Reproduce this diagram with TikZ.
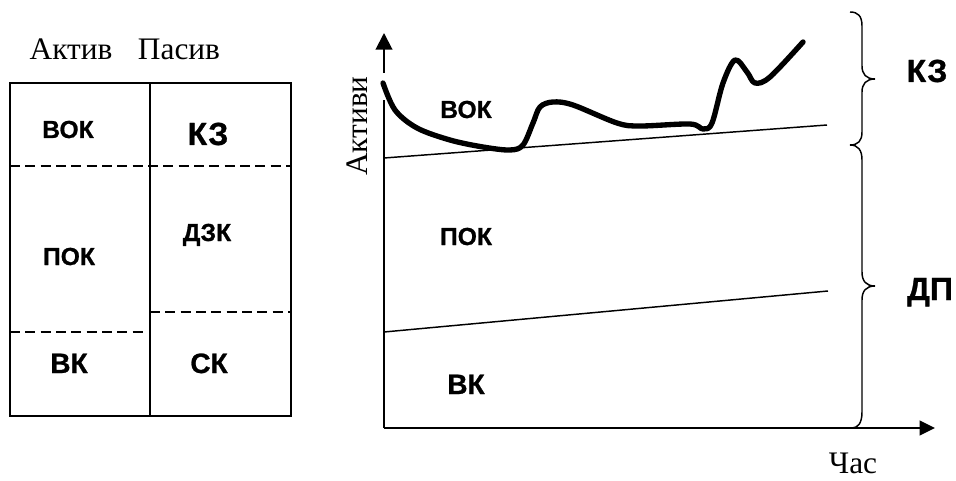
\documentclass[tikz,border=0pt]{standalone}
\usepackage{fontspec}
\setmainfont{Liberation Serif}
\setsansfont{Liberation Sans}[BoldFeatures={FakeBold=0.9}]
\usetikzlibrary{arrows.meta}
\begin{document}
\begin{tikzpicture}[x=0.75pt,y=-0.75pt,
  lab/.style={font=\sffamily\bfseries\fontsize{18.5pt}{20pt}\selectfont, inner sep=0pt, anchor=base},
  labbig/.style={font=\sffamily\bfseries\fontsize{21pt}{23pt}\selectfont, inner sep=0pt, anchor=base},
  labhuge/.style={font=\sffamily\bfseries\fontsize{24pt}{26pt}\selectfont, inner sep=0pt, anchor=base},
  ser/.style={font=\rmfamily\fontsize{23.5pt}{25pt}\selectfont, inner sep=0pt, anchor=base},
  box/.style={line width=1.5pt},
  dsh/.style={line width=1.5pt, dash pattern=on 7.5pt off 4pt},
  thinline/.style={line width=1.1pt},
  bracestyle/.style={line width=1.1pt},
  curve/.style={line width=4pt, line cap=round, line join=round},
  axis/.style={line width=1.5pt}]
\useasboundingbox (0,0) rectangle (956,481);

% ---------- left table ----------
\node[ser] (aktiv) at (71,60) {Актив};
\node[ser] (pasiv) at (179,60) {Пасив};
\coordinate (tl) at (10,83);
\coordinate (br) at (291,416);
\coordinate (mt) at (150,83);
\coordinate (mb) at (150,416);
\draw[box] (tl) rectangle (br);
\draw[box] (mt) -- (mb);
\coordinate (d1a) at (10,166);
\coordinate (d1b) at (291,166);
\coordinate (d2a) at (10,332);
\coordinate (d2b) at (143,332);
\coordinate (d3a) at (150,312);
\coordinate (d3b) at (291,312);
\draw[dsh] (d1a) -- (d1b);
\draw[dsh] (d2a) -- (d2b);
\draw[dsh] (d3a) -- (d3b);
\node[lab] (vokL) at (68,138) {ВОК};
\node[labhuge] (kzL) at (208,145) {КЗ};
\node[lab] (pokL) at (69,265) {ПОК};
\node[lab] (dzk) at (207,241) {ДЗК};
\node[labbig] (vkL) at (69,373) {ВК};
\node[labbig] (sk) at (209,373) {СК};

% ---------- right chart ----------
\coordinate (O) at (384,428);
\coordinate (Xend) at (935,428);
\coordinate (Ytop) at (384,33);
\coordinate (Ybase) at (384,73);
\coordinate (Ylow) at (384,100);
\draw[axis] (O) -- (Ylow);
\draw[axis,-{Triangle[length=12.5pt,width=12.5pt]}] (Ybase) -- (Ytop);
\draw[axis,-{Triangle[length=11.5pt,width=11pt]}] (O) -- (Xend);
\node[ser, rotate=90] (aktivy) at (367,126) {Активи};
\node[ser] (chas) at (853,473) {Час};

\coordinate (u1) at (384,158);
\coordinate (u2) at (827,125);
\coordinate (l1) at (384,332);
\coordinate (l2) at (828,291);
\draw[thinline] (u1) -- (u2);
\draw[thinline] (l1) -- (l2);

\draw[curve] plot[smooth, tension=0.55] coordinates {
 (383,83) (395,110) (417,128) (450,140) (483,147) (510,150) (523,145)
 (533,123) (540,107) (553,102) (573,105) (617,123) (640,126) (690,124)
 (703,129) (712,123) (723,83) (735,60) (747,72) (755,83) (770,77) (803,42)};

\node[lab] (vokR) at (466,118) {ВОК};
\node[lab] (pokR) at (466,245) {ПОК};
\node[labbig] (vkR) at (466,394) {ВК};

% braces
\draw[bracestyle] (850,12) .. controls (858,12) and (862,16) .. (862,26) -- (862,66)
  .. controls (862,74) and (866,79) .. (875,79)
  .. controls (866,79) and (862,84) .. (862,92) -- (862,132)
  .. controls (862,141) and (858,145) .. (850,145);
\draw[bracestyle] (850,145) .. controls (858,145) and (862,150) .. (862,160) -- (862,272)
  .. controls (862,281) and (866,286) .. (875,286)
  .. controls (866,286) and (862,291) .. (862,300) -- (862,412)
  .. controls (862,423) and (858,428) .. (852,428);
\node[labhuge] (kzR) at (927,82) {КЗ};
\node[labhuge] (dp) at (930,300) {ДП};
\end{tikzpicture}
\end{document}
